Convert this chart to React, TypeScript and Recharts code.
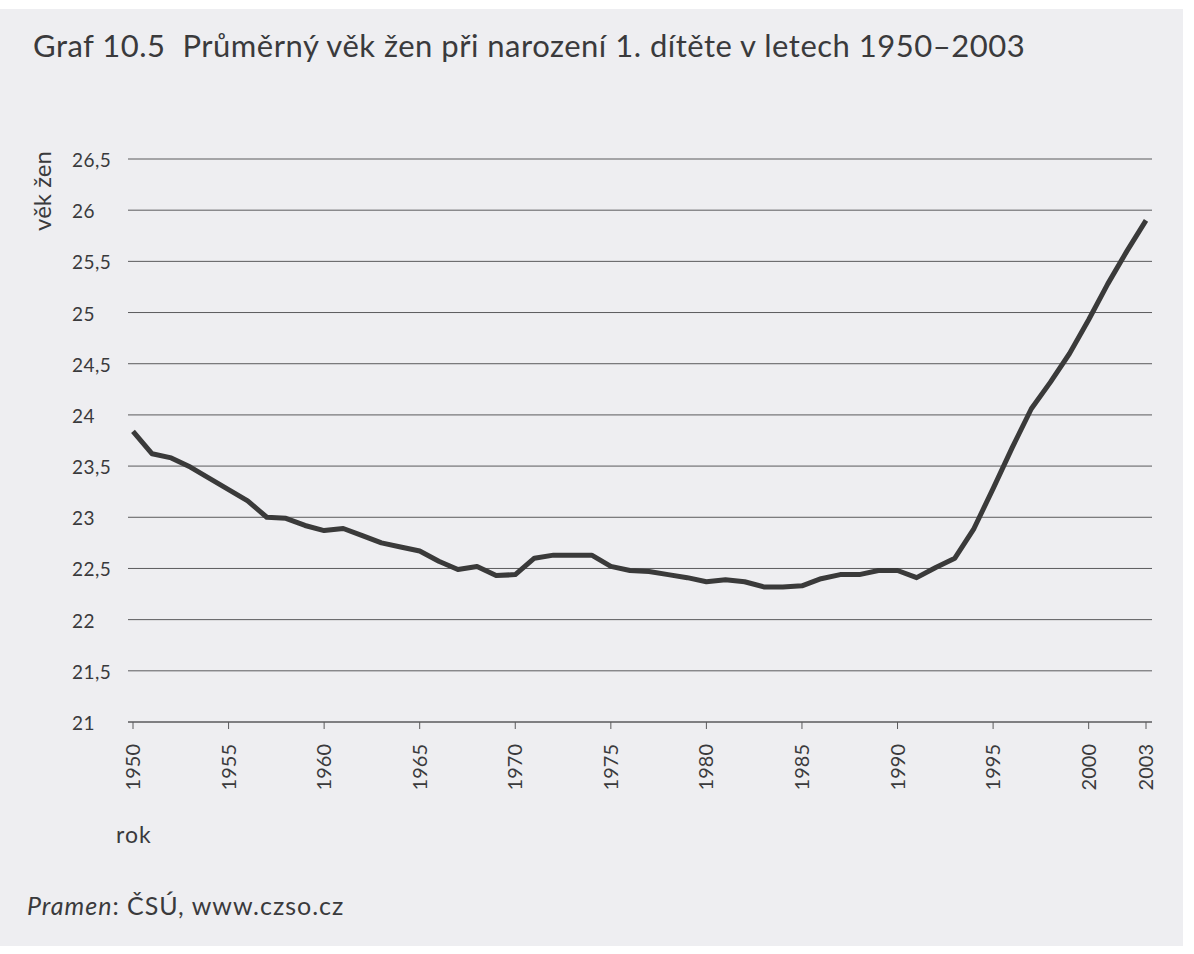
import React from 'react'
import { LineChart, Line, XAxis, YAxis, CartesianGrid } from 'recharts'

const years = [
  1950, 1951, 1952, 1953, 1954, 1955, 1956, 1957, 1958, 1959,
  1960, 1961, 1962, 1963, 1964, 1965, 1966, 1967, 1968, 1969,
  1970, 1971, 1972, 1973, 1974, 1975, 1976, 1977, 1978, 1979,
  1980, 1981, 1982, 1983, 1984, 1985, 1986, 1987, 1988, 1989,
  1990, 1991, 1992, 1993, 1994, 1995, 1996, 1997, 1998, 1999,
  2000, 2001, 2002, 2003,
]

// průměrný věk žen při narození 1. dítěte
const ages = [
  23.84, 23.62, 23.58, 23.49, 23.38, 23.27, 23.16, 23.0, 22.99, 22.92,
  22.87, 22.89, 22.82, 22.75, 22.71, 22.67, 22.57, 22.49, 22.52, 22.43,
  22.44, 22.6, 22.63, 22.63, 22.63, 22.52, 22.48, 22.47, 22.44, 22.41,
  22.37, 22.39, 22.37, 22.32, 22.32, 22.33, 22.4, 22.44, 22.44, 22.48,
  22.48, 22.41, 22.51, 22.6, 22.89, 23.28, 23.68, 24.06, 24.32, 24.6,
  24.93, 25.28, 25.6, 25.9,
]

const yearTicks = [1950, 1955, 1960, 1965, 1970, 1975, 1980, 1985, 1990, 1995, 2000, 2003]
const ageTicks = [21, 21.5, 22, 22.5, 23, 23.5, 24, 24.5, 25, 25.5, 26, 26.5]

const data = years.map((year, i) => ({ year, age: ages[i] }))

const FONT = 'Lato, "Open Sans", sans-serif'
const INK = '#3a3a3c'

function AgeTick({ y, payload }: any) {
  return (
    <text x={72} y={y} dy={8} fill={INK} fontSize={19} letterSpacing={0.5} fontFamily={FONT}>
      {String(payload.value).replace('.', ',')}
    </text>
  )
}

function YearTick({ x, y, payload }: any) {
  return (
    <text
      transform={`translate(${x + 7},${y + 13}) rotate(-90)`}
      textAnchor="end"
      fill={INK}
      fontSize={20}
      fontFamily={FONT}
    >
      {payload.value}
    </text>
  )
}

export default function App() {
  return (
    <div style={{ position: 'absolute', left: 0, top: 0, width: 1194, height: 954, background: '#fff', overflow: 'hidden' }}>
      <div style={{ position: 'absolute', left: 0, top: 9, width: 1183, height: 937, background: '#eeeef1' }} />
      <div
        style={{
          position: 'absolute', left: 33, top: 26, fontFamily: FONT, fontSize: 31, letterSpacing: 0.5,
          lineHeight: 'normal', color: INK, whiteSpace: 'pre',
        }}
      >
        {'Graf 10.5  Průměrný věk žen při narození 1. dítěte v letech 1950–2003'}
      </div>
      <div
        style={{
          position: 'absolute', left: 41, top: 191, transform: 'translate(-50%, -50%) rotate(-90deg)',
          fontFamily: FONT, fontSize: 24, color: INK, whiteSpace: 'nowrap',
        }}
      >
        věk žen
      </div>
      <div style={{ position: 'absolute', left: 116, top: 820, fontFamily: FONT, fontSize: 23, letterSpacing: 1, color: INK }}>
        rok
      </div>
      <div style={{ position: 'absolute', left: 27, top: 890, fontFamily: FONT, fontSize: 25, letterSpacing: 1, color: INK }}>
        <i>Pramen</i>: ČSÚ, www.czso.cz
      </div>
      <div style={{ position: 'absolute', left: 0, top: 0 }}>
        <LineChart width={1194} height={954} data={data} margin={{ top: 159, right: 42, bottom: 172, left: 0 }}>
          <CartesianGrid vertical={false} stroke="#5a5a5c" strokeWidth={1} />
          <XAxis
            dataKey="year"
            type="number"
            domain={[1950, 2003]}
            ticks={yearTicks}
            interval={0}
            padding={{ left: 5, right: 6 }}
            height={60}
            stroke="#5a5a5c"
            tickSize={7}
            tick={<YearTick />}
          />
          <YAxis
            type="number"
            domain={[21, 26.5]}
            ticks={ageTicks}
            interval={0}
            width={128}
            axisLine={false}
            tickLine={false}
            tick={<AgeTick />}
          />
          <Line
            dataKey="age"
            type="linear"
            stroke="#3a3a3a"
            strokeWidth={5}
            strokeLinejoin="round"
            dot={false}
            isAnimationActive={false}
          />
        </LineChart>
      </div>
    </div>
  )
}
